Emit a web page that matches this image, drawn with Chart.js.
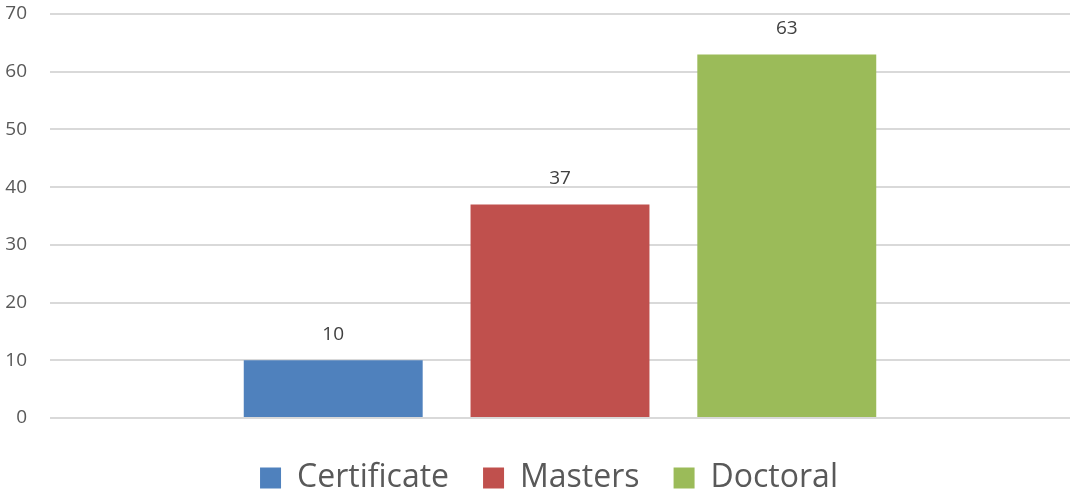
<!DOCTYPE html>
<html>
<head>
<meta charset="utf-8">
<script src="https://cdn.jsdelivr.net/npm/chart.js@4"></script>
<style>
  html, body { margin: 0; padding: 0; background: #fff; }
  #wrap { width: 1071px; height: 494px; position: relative; }
</style>
</head>
<body>
<div id="wrap"><canvas id="degrees"></canvas></div>
<script>
// Qualification counts, one bar per series
const seriesNames = ['Certificate', 'Masters', 'Doctoral'];
const seriesValues = [10, 37, 63];
const seriesColors = ['#4f81bd', '#c0504d', '#9bbb59'];
const yTicks = [0, 10, 20, 30, 40, 50, 60, 70];

const FONT = "'Open Sans', 'Noto Sans', sans-serif";

// Value printed above each bar
const valueLabels = {
  id: 'valueLabels',
  afterDatasetsDraw(chart) {
    const ctx = chart.ctx;
    ctx.save();
    ctx.font = `19px ${FONT}`;
    ctx.fillStyle = '#404040';
    ctx.textAlign = 'center';
    ctx.textBaseline = 'middle';
    chart.data.datasets.forEach((ds, i) => {
      chart.getDatasetMeta(i).data.forEach((bar, j) => {
        ctx.fillText(String(ds.data[j]), bar.x, bar.y - 26);
      });
    });
    ctx.restore();
  }
};

// nudge the legend a bit right and down
const legendNudge = {
  id: 'legendNudge',
  afterLayout(chart) {
    const lg = chart.legend;
    lg.left += 14; lg.right += 14;
    lg.top += 10; lg.bottom += 10;
  }
};

const datasets = seriesNames.map((name, i) => ({
  label: name,
  data: [seriesValues[i]],
  backgroundColor: seriesColors[i],
  borderWidth: 0,
  categoryPercentage: 0.667,
  barPercentage: 0.789
}));

new Chart(document.getElementById('degrees'), {
  type: 'bar',
  data: { labels: [''], datasets },
  plugins: [valueLabels, legendNudge],
  options: {
    responsive: true,
    maintainAspectRatio: false,
    animation: false,
    layout: { padding: { top: 14, right: 1 } },
    plugins: {
      tooltip: { enabled: false },
      legend: {
        position: 'bottom',
        labels: {
          boxWidth: 21,
          boxHeight: 21,
          padding: 34,
          color: '#595959',
          font: { family: FONT, size: 32 }
        }
      }
    },
    scales: {
      x: { display: false },
      y: {
        min: 0,
        max: 70,
        afterFit: s => { s.width = 50; s.paddingTop = 0; s.paddingBottom = 0; },
        afterBuildTicks: s => { s.ticks = yTicks.map(v => ({ value: v })); },
        border: { display: false },
        grid: { color: '#d9d9d9', lineWidth: 2, drawTicks: false },
        ticks: {
          padding: 23,
          color: '#595959',
          font: { family: FONT, size: 19 }
        }
      }
    }
  }
});
</script>
</body>
</html>
